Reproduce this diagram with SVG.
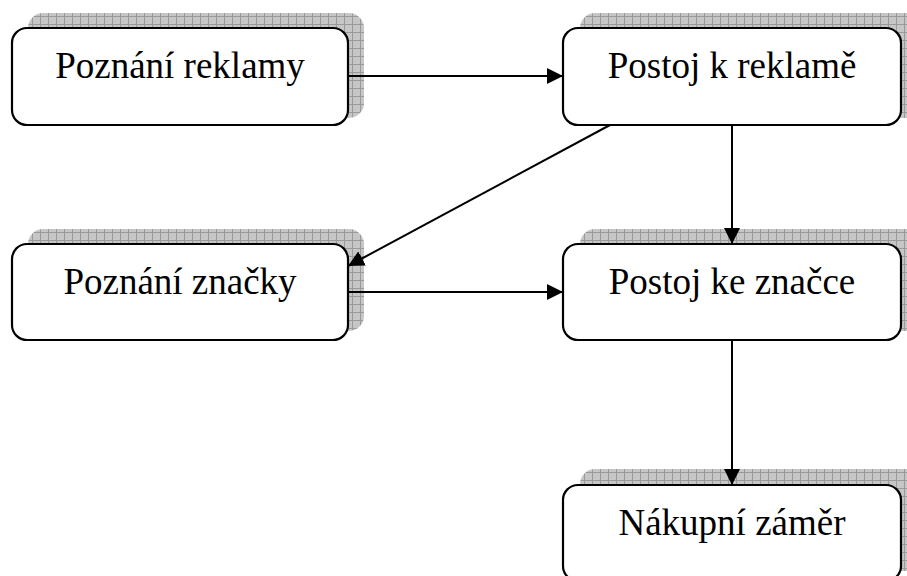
<svg xmlns="http://www.w3.org/2000/svg" width="907" height="576" viewBox="0 0 907 576">
<defs>
<pattern id="grid" x="0" y="0" width="8" height="8" patternUnits="userSpaceOnUse">
<rect width="8" height="8" fill="#c6c6c6"/>
<path d="M0 0.5H8M0.5 0V8" stroke="#9a9a9a" stroke-width="1"/>
</pattern>
<marker id="ah" markerWidth="16" markerHeight="16" refX="16" refY="8" orient="auto" markerUnits="userSpaceOnUse">
<path d="M0 0L16 8L0 16Z" fill="#000"/>
</marker>
</defs>
<style>
.sh{fill:url(#grid);}
.bx{fill:#fff;stroke:#000;stroke-width:2.2;}
.tx{font-family:"Liberation Serif","Times New Roman",serif;font-size:37px;fill:#000;text-anchor:middle;}
.cn{stroke:#000;stroke-width:2;fill:none;marker-end:url(#ah);}
</style>
<rect width="907" height="576" fill="#fff"/>
<g id="n1">
<rect class="sh" x="28" y="13" width="336" height="105" rx="15"/>
<rect class="bx" x="12" y="28" width="336" height="97" rx="15"/>
<text class="tx" x="180" y="78">Poznání reklamy</text>
</g>
<g id="n2">
<rect class="sh" x="580" y="13" width="340" height="105" rx="15"/>
<rect class="bx" x="563" y="28" width="338" height="97" rx="15"/>
<text class="tx" x="732" y="78">Postoj k reklamě</text>
</g>
<g id="n3">
<rect class="sh" x="28" y="229" width="336" height="102" rx="15"/>
<rect class="bx" x="12" y="244" width="336" height="96" rx="15"/>
<text class="tx" x="180" y="294">Poznání značky</text>
</g>
<g id="n4">
<rect class="sh" x="580" y="229" width="340" height="102" rx="15"/>
<rect class="bx" x="563" y="244" width="338" height="96" rx="15"/>
<text class="tx" x="732" y="294">Postoj ke značce</text>
</g>
<g id="n5">
<rect class="sh" x="580" y="469" width="340" height="102" rx="15"/>
<rect class="bx" x="563" y="485" width="338" height="96" rx="15"/>
<text class="tx" x="732" y="535">Nákupní záměr</text>
</g>
<g id="connectors">
<line class="cn" x1="348" y1="76" x2="563" y2="76"/>
<line class="cn" x1="732" y1="125" x2="732" y2="244"/>
<line class="cn" x1="610" y1="125" x2="348" y2="266"/>
<line class="cn" x1="348" y1="292" x2="563" y2="292"/>
<line class="cn" x1="732" y1="340" x2="732" y2="485"/>
</g>
</svg>
